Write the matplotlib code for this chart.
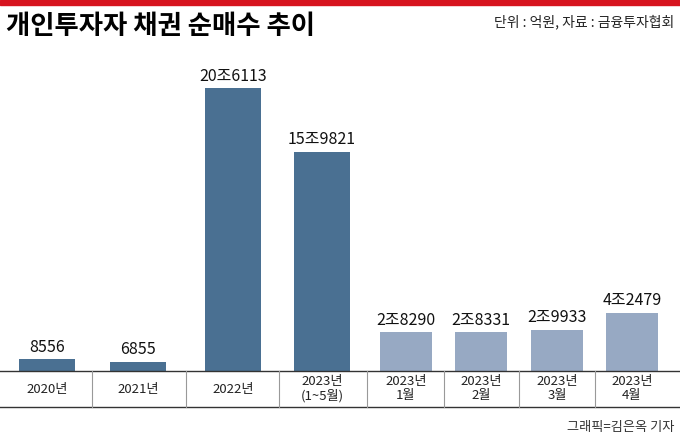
import matplotlib.pyplot as plt
from matplotlib.lines import Line2D

plt.rcParams['font.family'] = ['Noto Sans CJK KR', 'Noto Sans CJK JP', 'Noto Sans CJK SC', 'DejaVu Sans']

labels = ['2020년', '2021년', '2022년', '2023년\n(1~5월)', '2023년\n1월', '2023년\n2월', '2023년\n3월', '2023년\n4월']
values = [8556, 6855, 206113, 159821, 28290, 28331, 29933, 42479]
dark = [True, True, True, True, False, False, False, False]


def fmt(v):
    jo, rest = divmod(v, 10000)
    return f'{jo}조{rest}' if jo else str(rest)


W, H = 680, 438
fig = plt.figure(figsize=(W / 100, H / 100), dpi=100)
base = 371
ax = fig.add_axes([0, (H - base) / H, 1, (base - 20) / H])
ax.set_xlim(0, W)
ax.set_ylim(0, 351 / 0.001373)
ax.axis('off')

xpos = [47, 138, 233, 322, 406, 481, 557, 632]
for x, v, d in zip(xpos, values, dark):
    ax.bar(x, v, width=56 if d else 52, color='#4a7092' if d else '#97a9c3')
    ax.text(x, v + 2500, fmt(v), ha='center', va='bottom', fontsize=11.5, color='#111')

# header / frame
fig.add_artist(plt.Rectangle((0, 1 - 5 / H), 1, 5 / H, color='#d7141f', transform=fig.transFigure))
fig.text(6 / W, 1 - 27 / H, '개인투자자 채권 순매수 추이', fontsize=19, fontweight='bold', va='center')
fig.text(674 / W, 1 - 22 / H, '단위 : 억원, 자료 : 금융투자협회', fontsize=10, ha='right', va='center', color='#222')
for yy in (base, 407):
    fig.add_artist(Line2D([0, 1], [1 - yy / H] * 2, color='#333', lw=1))
seps = [92, 186, 279, 367, 444, 519, 595]
for s in seps:
    fig.add_artist(Line2D([s / W] * 2, [1 - base / H, 1 - 407 / H], color='#999', lw=0.8))
for x, lab in zip(xpos, labels):
    fig.text(x / W, 1 - 389 / H, lab, ha='center', va='center', fontsize=9.5, color='#222', linespacing=1.1)
fig.text(674 / W, 1 - 428 / H, '그래픽=김은옥 기자', fontsize=9.5, ha='right', va='center', color='#333')

fig.savefig('out.png', dpi=100)
